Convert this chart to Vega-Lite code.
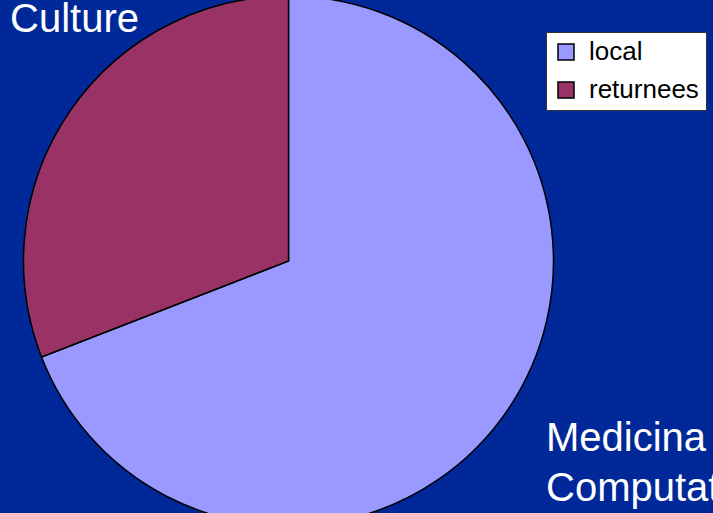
{
  "$schema": "https://vega.github.io/schema/vega-lite/v6.json",
  "padding": {"left": 0, "top": -7, "right": 0, "bottom": 0},
  "background": "#002899",
  "title": {
    "text": "Culture",
    "anchor": "start",
    "orient": "top",
    "font": "Liberation Sans",
    "fontSize": 40,
    "fontWeight": "normal",
    "color": "#ffffff",
    "baseline": "alphabetic",
    "offset": 0,
    "dx": 10,
    "dy": 79
  },
  "vconcat": [
    {
      "width": 577,
      "height": 530,
      "title": {
        "text": ["Medicina", "Computational"],
        "orient": "bottom",
        "anchor": "start",
        "font": "Liberation Sans",
        "fontSize": 40,
        "fontWeight": "normal",
        "color": "#ffffff",
        "baseline": "alphabetic",
        "lineHeight": 50,
        "offset": 0,
        "dx": 546,
        "dy": -78
      },
      "data": {
        "values": [
          {"group": "local", "value": 69.1},
          {"group": "returnees", "value": 30.9}
        ]
      },
      "mark": {"type": "arc", "outerRadius": 265, "stroke": "#000000", "strokeWidth": 1.5},
      "encoding": {
        "theta": {"field": "value", "type": "quantitative", "stack": true},
        "color": {
          "field": "group",
          "type": "nominal",
          "scale": {"domain": ["local", "returnees"], "range": ["#9999FF", "#993366"]},
          "legend": {
            "title": null,
            "orient": "none",
            "legendX": 546,
            "legendY": 36,
            "fillColor": "#ffffff",
            "strokeColor": "#333333",
            "padding": 7,
            "symbolType": "square",
            "symbolSize": 256,
            "symbolStrokeColor": "#000000",
            "symbolStrokeWidth": 1.5,
            "labelFont": "Liberation Sans",
            "labelFontSize": 26,
            "labelColor": "#000000",
            "labelOffset": 10,
            "rowPadding": 12,
            "labelLimit": 300
          }
        }
      }
    }
  ],
  "config": {"view": {"stroke": null}}
}
